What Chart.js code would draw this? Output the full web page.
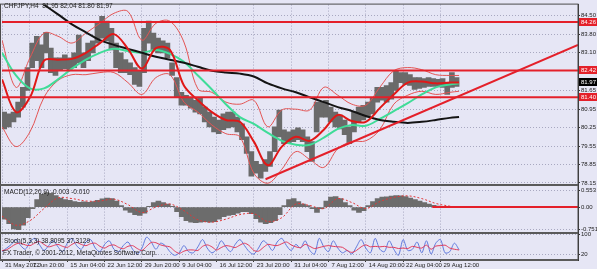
<!DOCTYPE html>
<html>
<head>
<meta charset="utf-8">
<script src="https://cdn.jsdelivr.net/npm/chart.js@4.4.1/dist/chart.umd.min.js"></script>
<style>
  html, body { margin: 0; padding: 0; background: #e6e6f5; }
  #wrap { width: 597px; height: 269px; }
</style>
</head>
<body>
<div id="wrap"><canvas id="chart" width="597" height="269"></canvas></div>
<script>
// CHFJPY H4 - price, MAs, Bollinger, MACD, Stochastic

// x axis: H4 bar index
const tickIdx = [0, 24, 56, 88, 120, 152, 184, 216, 248, 280, 312, 344, 376];
const tickLabels = ['31 May 2012', '7 Jun 20:00', '15 Jun 04:00', '22 Jun 12:00', '29 Jun 20:00', '9 Jul 04:00',
  '16 Jul 12:00', '23 Jul 20:00', '31 Jul 04:00', '7 Aug 12:00', '14 Aug 20:00', '22 Aug 04:00', '29 Aug 12:00'];

// price (groups of 4 bars): high / low
const priceHigh = [81.03,80.84,80.77,80.84,81.22,81.78,82.53,83.46,83.72,83.39,
  83.87,83.27,82.90,82.90,83.01,82.90,83.09,83.76,83.09,83.46,
  83.54,84.21,84.47,84.29,84.02,83.46,83.09,82.83,82.71,82.53,
  82.41,84.02,84.29,83.84,83.65,83.54,83.46,82.71,82.15,81.59,
  81.48,81.40,81.29,81.40,81.03,80.84,80.65,80.54,80.77,80.84,
  80.84,80.65,80.39,79.90,79.34,78.97,78.86,79.04,79.34,80.28,
  80.92,80.17,80.09,80.17,80.24,80.17,79.90,79.72,81.22,81.22,
  81.29,81.03,80.84,80.73,80.54,80.28,80.84,81.03,81.10,81.22,
  81.40,81.78,81.78,81.85,81.96,82.41,82.34,82.34,82.26,82.15,
  82.15,82.11,82.15,82.11,82.08,82.11,81.96,82.34,82.15];
const priceLow = [80.47,80.20,80.28,80.47,80.65,81.03,81.66,82.53,82.79,82.53,
  83.09,82.34,82.23,82.41,82.49,82.41,82.53,82.71,82.53,82.79,
  83.09,83.46,83.65,83.54,83.20,82.53,82.34,82.34,82.26,81.89,
  81.81,82.34,83.46,83.16,83.09,83.09,82.90,82.23,81.40,81.10,
  81.10,80.99,80.84,80.77,80.47,80.28,80.09,80.02,80.17,80.24,
  80.28,80.09,79.79,79.27,78.41,78.52,78.33,78.59,78.78,79.34,
  79.90,79.64,79.64,79.72,79.79,79.72,79.34,78.97,80.09,80.65,
  80.65,80.47,80.28,80.20,79.98,79.64,80.09,80.47,80.54,80.65,
  80.77,81.22,81.29,81.22,81.33,81.66,81.96,81.89,81.85,81.70,
  81.74,81.78,81.81,81.81,81.81,81.78,81.51,81.78,81.81];

// indicator sample bars
const maIdx = [0,12,24,36,48,60,72,84,96,108,120,132,144,156,168,180,192,204,216,228,
  240,252,264,276,288,300,312,324,336,348,360,372,384,392];
const redMA = [82.08,80.84,81.40,82.79,82.83,82.86,83.09,83.46,83.80,83.24,
  82.49,83.27,83.20,81.85,81.29,80.84,80.54,80.47,79.72,78.82,
  79.53,79.90,79.75,80.17,80.73,80.50,80.47,80.99,81.51,81.96,
  82.00,81.93,81.96,81.96];
const greenMA = [83.09,82.23,81.74,81.74,82.08,82.49,82.83,83.09,83.24,83.16,
  83.09,83.20,83.05,82.75,82.23,81.70,81.14,80.65,80.39,80.05,
  79.75,79.60,79.60,79.87,80.20,80.35,80.32,80.58,80.88,81.18,
  81.51,81.78,81.89,81.93];
const blackMA = [85.30,84.92,84.55,84.17,83.87,83.57,83.39,83.24,83.09,82.94,
  82.83,82.71,82.56,82.41,82.34,82.30,82.19,81.93,81.74,81.59,
  81.40,81.22,81.03,80.88,80.69,80.54,80.47,80.43,80.47,80.54,
  80.62,80.65];
const bandUpper = [83.57,81.78,82.90,83.84,83.72,83.46,83.84,84.21,84.59,84.66,
  83.57,84.21,84.29,83.50,81.72,81.59,81.22,81.14,81.29,80.28,
  80.92,80.95,80.92,81.78,81.48,81.14,81.10,81.78,82.41,82.53,
  82.45,82.26,82.23,82.23];
const bandLower = [80.28,79.53,80.09,81.40,82.04,82.26,82.26,82.34,82.34,81.96,
  81.51,82.15,82.26,81.22,80.84,80.35,80.02,79.90,78.52,78.14,
  78.67,79.34,79.04,78.74,79.45,79.72,79.75,80.17,81.14,81.48,
  81.63,81.51,81.59,81.63];

// objects drawn on the chart
const levels = [84.26, 82.42, 81.40];
const lastClose = 81.97;
const trendIdx = [226, 494];
const trendVals = [78.29, 83.39];

// MACD(12,26,9)
const macdHist = [-0.40,-0.55,-0.72,-0.75,-0.60,-0.35,-0.05,0.25,0.42,0.48,
  0.45,0.38,0.30,0.25,0.22,0.18,0.16,0.17,0.16,0.18,
  0.22,0.27,0.30,0.28,0.20,0.05,-0.10,-0.18,-0.25,-0.28,
  -0.20,0.02,0.15,0.20,0.15,0.10,0.02,-0.15,-0.32,-0.45,
  -0.50,-0.52,-0.50,-0.48,-0.50,-0.48,-0.40,-0.32,-0.28,-0.25,
  -0.20,-0.15,-0.15,-0.22,-0.38,-0.50,-0.55,-0.52,-0.45,-0.25,
  0.05,0.25,0.28,0.18,0.10,0.05,-0.05,-0.18,-0.05,0.20,
  0.33,0.35,0.28,0.15,0.05,-0.10,-0.18,-0.12,0.05,0.18,
  0.28,0.33,0.34,0.36,0.38,0.37,0.35,0.30,0.25,0.20,
  0.15,0.10,0.06,0.03,0.02,0.02,0.00,0.01,0.00];
const macdSignal = [-0.30,-0.60,-0.45,-0.05,0.30,0.28,0.20,0.20,0.26,0.08,
  -0.18,0.00,0.10,-0.12,-0.42,-0.50,-0.40,-0.25,-0.22,-0.48,
  -0.35,0.10,0.05,-0.05,0.28,0.15,-0.05,0.18,0.32,0.37,
  0.28,0.12,0.03,0.00];
const macdZeroIdx = [369, 494];

// Stochastic(5,3,3)
const stochMain = [30,45,60,80,55,40,70,85,60,35, 55,75,50,30,65,85,55,40,70,80,
  45,30,60,75,40,30,55,70,40,20, 45,90,70,40,65,55,30,15,25,55,
  30,25,50,80,45,25,40,75,50,30, 60,80,55,30,20,45,75,60,35,70,
  85,55,35,60,45,75,35,20,85,50, 30,75,45,25,35,20,50,80,45,25,
  85,40,30,75,40,15,80,35,40,70, 25,75,20,65,80,25,30,65,38];
const stochSignal = [35,38,50,62,65,58,55,65,72,60, 50,55,60,52,48,60,68,60,55,63,
  65,52,45,55,58,48,42,52,55,43, 35,52,68,67,58,53,50,33,23,32,
  37,37,35,52,58,50,37,47,55,52, 47,57,65,55,35,32,47,60,57,55,
  63,70,58,50,47,60,52,43,47,52, 55,52,50,48,35,27,35,50,58,50,
  52,50,52,48,48,43,45,43,52,48, 45,57,40,53,55,57,45,40,37];

// axis ticks
const priceTicks = [84.50, 83.80, 83.10, 81.65, 80.95, 80.25, 79.55, 78.85, 78.15];
const macdTicks = [0.553, 0, -0.751];
const stochTicks = [100, 80, 20];

const BG = '#e6e6f5';
const GRID = '#a8a8c0';
const FONT = 'Liberation Sans';
const RED = '#e4202a';

const barIdx = priceHigh.map((_, i) => i * 4);
const pts = (idx, vals) => vals.map((v, i) => ({ x: idx[i], y: v }));
const flat = (v, from, to) => [{ x: from, y: v }, { x: to, y: v }];

function line(data, color, width, axis, order, extra) {
  return Object.assign({
    type: 'line', data, borderColor: color, borderWidth: width, pointRadius: 0,
    tension: 0.35, fill: false, yAxisID: axis, order
  }, extra || {});
}

const datasets = [
  { type: 'bar', data: barIdx.map((x, i) => ({ x, y: [priceLow[i], priceHigh[i]] })),
    backgroundColor: '#6a6a6a', barThickness: 5, yAxisID: 'y', order: 20 },
  line(pts(maIdx, bandUpper), '#e35454', 1, 'y', 15),
  line(pts(maIdx, bandLower), '#e35454', 1, 'y', 15),
  line(pts(maIdx, greenMA), '#3fdc98', 2, 'y', 12),
  line(pts(maIdx.slice(2), blackMA), '#141414', 2, 'y', 11),
  line(pts(maIdx, redMA), '#e01818', 2, 'y', 10),
  ...levels.map(v => line(flat(v, 0, 494), RED, 2, 'y', 2, { tension: 0 })),
  line(pts(trendIdx, trendVals), RED, 2, 'y', 1, { tension: 0 }),

  { type: 'bar', data: pts(barIdx, macdHist), backgroundColor: '#6c6c6c',
    barThickness: 5, yAxisID: 'yMacd', order: 20 },
  line(pts(maIdx, macdSignal), '#e03838', 1, 'yMacd', 5, { borderDash: [2, 2] }),
  line(flat(0, macdZeroIdx[0], macdZeroIdx[1]), RED, 2, 'yMacd', 2, { tension: 0 }),

  line(pts(barIdx, stochMain), '#5f78dc', 1, 'yStoch', 6, { tension: 0.3 }),
  line(pts(barIdx, stochSignal), '#e03c5c', 1, 'yStoch', 5, { tension: 0.3 })
];

function yAxis(weight, min, max, ticks, fmt) {
  return {
    position: 'right', stack: 'panes', stackWeight: weight, min, max,
    afterBuildTicks: s => { s.ticks = ticks.map(v => ({ value: v })); },
    afterFit: s => { s.width = 19; },
    ticks: { font: { family: FONT, size: 6 }, color: '#222', padding: 1, callback: fmt },
    grid: { color: GRID, tickLength: 2, tickColor: '#333' },
    border: { color: '#333', dash: [1, 2] }
  };
}

const decor = {
  id: 'decor',
  beforeDraw(chart) {
    const { ctx, width, height } = chart;
    ctx.save();
    ctx.fillStyle = BG;
    ctx.fillRect(0, 0, width, height);
    ctx.restore();
  },
  afterDraw(chart) {
    const { ctx, chartArea: a, scales } = chart;
    ctx.save();
    // pane frames and separators
    ctx.strokeStyle = '#4c4c4c';
    ctx.lineWidth = 1;
    ctx.strokeRect(a.left - 1.5, a.top - 0.5, a.right - a.left + 1.5, a.bottom - a.top);
    ctx.fillStyle = '#5a5a5a';
    [scales.y.bottom, scales.yMacd.bottom, scales.yStoch.bottom].forEach(y => {
      ctx.fillRect(a.left - 2, Math.round(y) - 1, a.right - a.left + 2, 2);
    });

    // texts
    ctx.fillStyle = '#1c1c1c';
    ctx.textBaseline = 'middle';
    ctx.textAlign = 'left';
    ctx.font = '6.5px "' + FONT + '"';
    ctx.fillText('CHFJPY,H4  81.95 82.04 81.80 81.97', 4, 6);
    ctx.fillText('MACD(12,26,9) -0.003 -0.010', 4, scales.yMacd.top + 7);
    ctx.fillText('Stoch(5,3,3) 38.8095 37.3129', 4, scales.yStoch.top + 8);
    ctx.fillText('FX Trader, \u00a9 2001-2012, MetaQuotes Software Corp.', 3, scales.yStoch.top + 20);

    // price marks on the axis
    const marks = levels.map(v => ({ v, bg: RED })).concat([{ v: lastClose, bg: '#000' }]);
    ctx.font = '6px "' + FONT + '"';
    marks.forEach(m => {
      const y = Math.round(scales.y.getPixelForValue(m.v));
      ctx.fillStyle = m.bg;
      ctx.fillRect(a.right + 1, y - 4, chart.width - a.right - 1, 8);
      ctx.fillStyle = '#fff';
      ctx.fillText(m.v.toFixed(2), a.right + 3, y + 0.5);
    });
    ctx.restore();
  }
};

new Chart(document.getElementById('chart'), {
  type: 'line',
  data: { datasets },
  options: {
    responsive: false,
    animation: false,
    events: [],
    layout: { padding: { left: 2, top: 1, right: 0, bottom: 0 } },
    plugins: { legend: { display: false }, tooltip: { enabled: false } },
    scales: {
      x: {
        type: 'linear', min: 0, max: 494, offset: false,
        afterBuildTicks: s => { s.ticks = tickIdx.map(v => ({ value: v })); },
        afterFit: s => { s.height = 9; },
        ticks: {
          autoSkip: false, maxRotation: 0, minRotation: 0, align: 'start', labelOffset: 3, padding: 0,
          font: { family: FONT, size: 6 }, color: '#222',
          callback: (v, i) => tickLabels[i]
        },
        grid: { color: GRID, tickLength: 2, tickColor: '#333', offset: false },
        border: { color: '#444', dash: [1, 2] }
      },
      y: yAxis(183, 78.07, 84.92, priceTicks, v => v.toFixed(2)),
      yMacd: yAxis(49, -0.87, 0.727, macdTicks, v => (v === 0 ? '0.00' : v.toFixed(3))),
      yStoch: yAxis(27, -4.5, 105.7, stochTicks, v => String(v))
    }
  },
  plugins: [decor]
});
</script>
</body>
</html>
